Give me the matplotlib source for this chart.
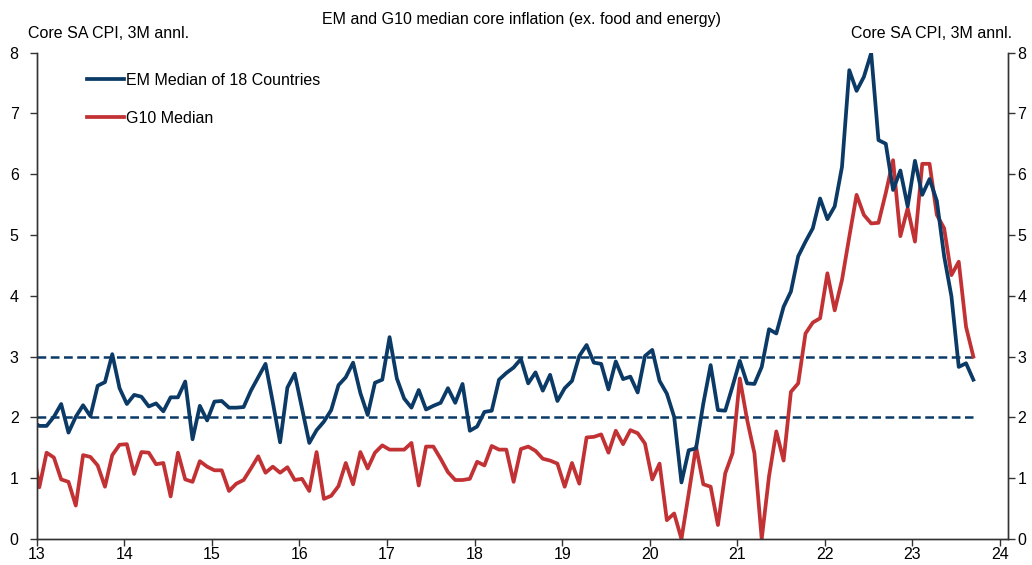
import numpy as np
import matplotlib
matplotlib.use("Agg")
import matplotlib.pyplot as plt

plt.rcParams['font.family'] = ['Liberation Sans', 'DejaVu Sans']

# monthly data, Dec 2012 .. Sep 2023 (core SA CPI, 3M annualised)
em_median = [
    1.94, 1.86, 1.86, 2.01, 2.22, 1.75, 2.01, 2.20, 2.02, 2.52, 2.58, 3.04, 2.48,   # 2013
    2.22, 2.37, 2.34, 2.18, 2.23, 2.10, 2.33, 2.33, 2.59, 1.64, 2.19, 1.95,         # 2014
    2.26, 2.27, 2.16, 2.16, 2.17, 2.44, 2.66, 2.88, 2.25, 1.59, 2.49, 2.72,         # 2015
    2.15, 1.58, 1.79, 1.93, 2.12, 2.53, 2.66, 2.90, 2.40, 2.04, 2.57, 2.62,         # 2016
    3.32, 2.64, 2.31, 2.16, 2.45, 2.13, 2.19, 2.24, 2.48, 2.24, 2.55, 1.78,         # 2017
    1.85, 2.09, 2.11, 2.62, 2.73, 2.82, 2.96, 2.56, 2.74, 2.44, 2.70, 2.27,         # 2018
    2.48, 2.60, 3.01, 3.19, 2.90, 2.88, 2.46, 2.92, 2.63, 2.67, 2.41, 3.01,         # 2019
    3.11, 2.60, 2.39, 2.01, 0.93, 1.46, 1.49, 2.23, 2.86, 2.12, 2.11, 2.51,         # 2020
    2.93, 2.56, 2.55, 2.83, 3.45, 3.38, 3.82, 4.07, 4.65, 4.89, 5.11, 5.60,         # 2021
    5.26, 5.47, 6.12, 7.71, 7.37, 7.60, 7.99, 6.56, 6.50, 5.74, 6.06, 5.47,         # 2022
    6.22, 5.66, 5.92, 5.56, 4.65, 3.99, 2.83, 2.89, 2.62,                           # 2023
]
g10_median = [
    1.60, 0.85, 1.42, 1.34, 0.98, 0.94, 0.55, 1.38, 1.35, 1.21, 0.86, 1.38, 1.55,
    1.56, 1.07, 1.43, 1.42, 1.23, 1.25, 0.70, 1.42, 0.98, 0.94, 1.28, 1.19,
    1.13, 1.13, 0.79, 0.91, 0.97, 1.16, 1.36, 1.09, 1.19, 1.09, 1.18, 0.97,
    0.99, 0.79, 1.43, 0.66, 0.71, 0.87, 1.25, 0.90, 1.43, 1.16, 1.42, 1.54,
    1.47, 1.47, 1.47, 1.58, 0.88, 1.52, 1.52, 1.32, 1.10, 0.97, 0.97, 0.99,
    1.27, 1.21, 1.53, 1.47, 1.47, 0.94, 1.48, 1.52, 1.45, 1.32, 1.29, 1.24,
    0.86, 1.25, 0.91, 1.67, 1.68, 1.72, 1.42, 1.78, 1.56, 1.79, 1.74, 1.57,
    0.98, 1.24, 0.31, 0.42, 0.00, 0.75, 1.52, 0.90, 0.86, 0.23, 1.08, 1.41,
    2.64, 1.96, 1.41, 0.00, 1.03, 1.77, 1.29, 2.42, 2.56, 3.38, 3.56, 3.63,
    4.37, 3.76, 4.26, 4.97, 5.66, 5.33, 5.19, 5.20, 5.69, 6.23, 4.98, 5.44,
    4.89, 6.17, 6.17, 5.33, 5.11, 4.34, 4.56, 3.49, 3.00,
]
band = [2, 3]
year_ticks = list(range(2013, 2025))
year_labels = [str(y)[2:] for y in year_ticks]

t = 2013 + (np.arange(-1, len(em_median) - 1) + 0.35) / 12

navy = '#0B3A66'
red = '#C23234'
axcol = '#333333'
fs = 11.5

fig = plt.figure(figsize=(10.32, 5.65), dpi=100)
ax = fig.add_axes([0.0356, 0.046, 0.941, 0.861])

ax.hlines(band, 2013, t[-1], colors=navy, linewidth=1.8,
          linestyles=(0, (3.5, 1.8)), zorder=1)
ax.plot(t, em_median, color=navy, lw=2.7, label='EM Median of 18 Countries', zorder=3)
ax.plot(t, g10_median, color=red, lw=2.7, label='G10 Median', zorder=2)

ax.set_xlim(2013, 2024.09)
ax.set_ylim(0, 8)
ax.set_xticks(year_ticks)
ax.set_xticklabels(year_labels)
ax.set_yticks(range(0, 9))

ax2 = ax.twinx()
ax2.set_ylim(0, 8)
ax2.set_yticks(range(0, 9))

for a in (ax, ax2):
    a.spines['top'].set_visible(False)
    for s in ['left', 'right', 'bottom']:
        a.spines[s].set_color(axcol)
        a.spines[s].set_linewidth(1.0)
    a.tick_params(axis='both', colors=axcol, labelcolor='black', labelsize=fs,
                  length=5, width=1.0, direction='out')
ax.tick_params(axis='y', pad=8)
ax.tick_params(axis='x', pad=1)
ax2.tick_params(axis='y', pad=2)

leg = ax.legend(loc='upper left', bbox_to_anchor=(0.052, 0.958), frameon=False,
                fontsize=fs, handlelength=2.3, handletextpad=0.15,
                labelspacing=1.42, borderaxespad=0, borderpad=0)

fig.text(0.505, 0.965, 'EM and G10 median core inflation (ex. food and energy)',
         ha='center', va='center', fontsize=fs)
fig.text(0.027, 0.941, 'Core SA CPI, 3M annl.', ha='left', va='center', fontsize=fs)
fig.text(0.981, 0.941, 'Core SA CPI, 3M annl.', ha='right', va='center', fontsize=fs)

fig.savefig('out.png', dpi=100)
